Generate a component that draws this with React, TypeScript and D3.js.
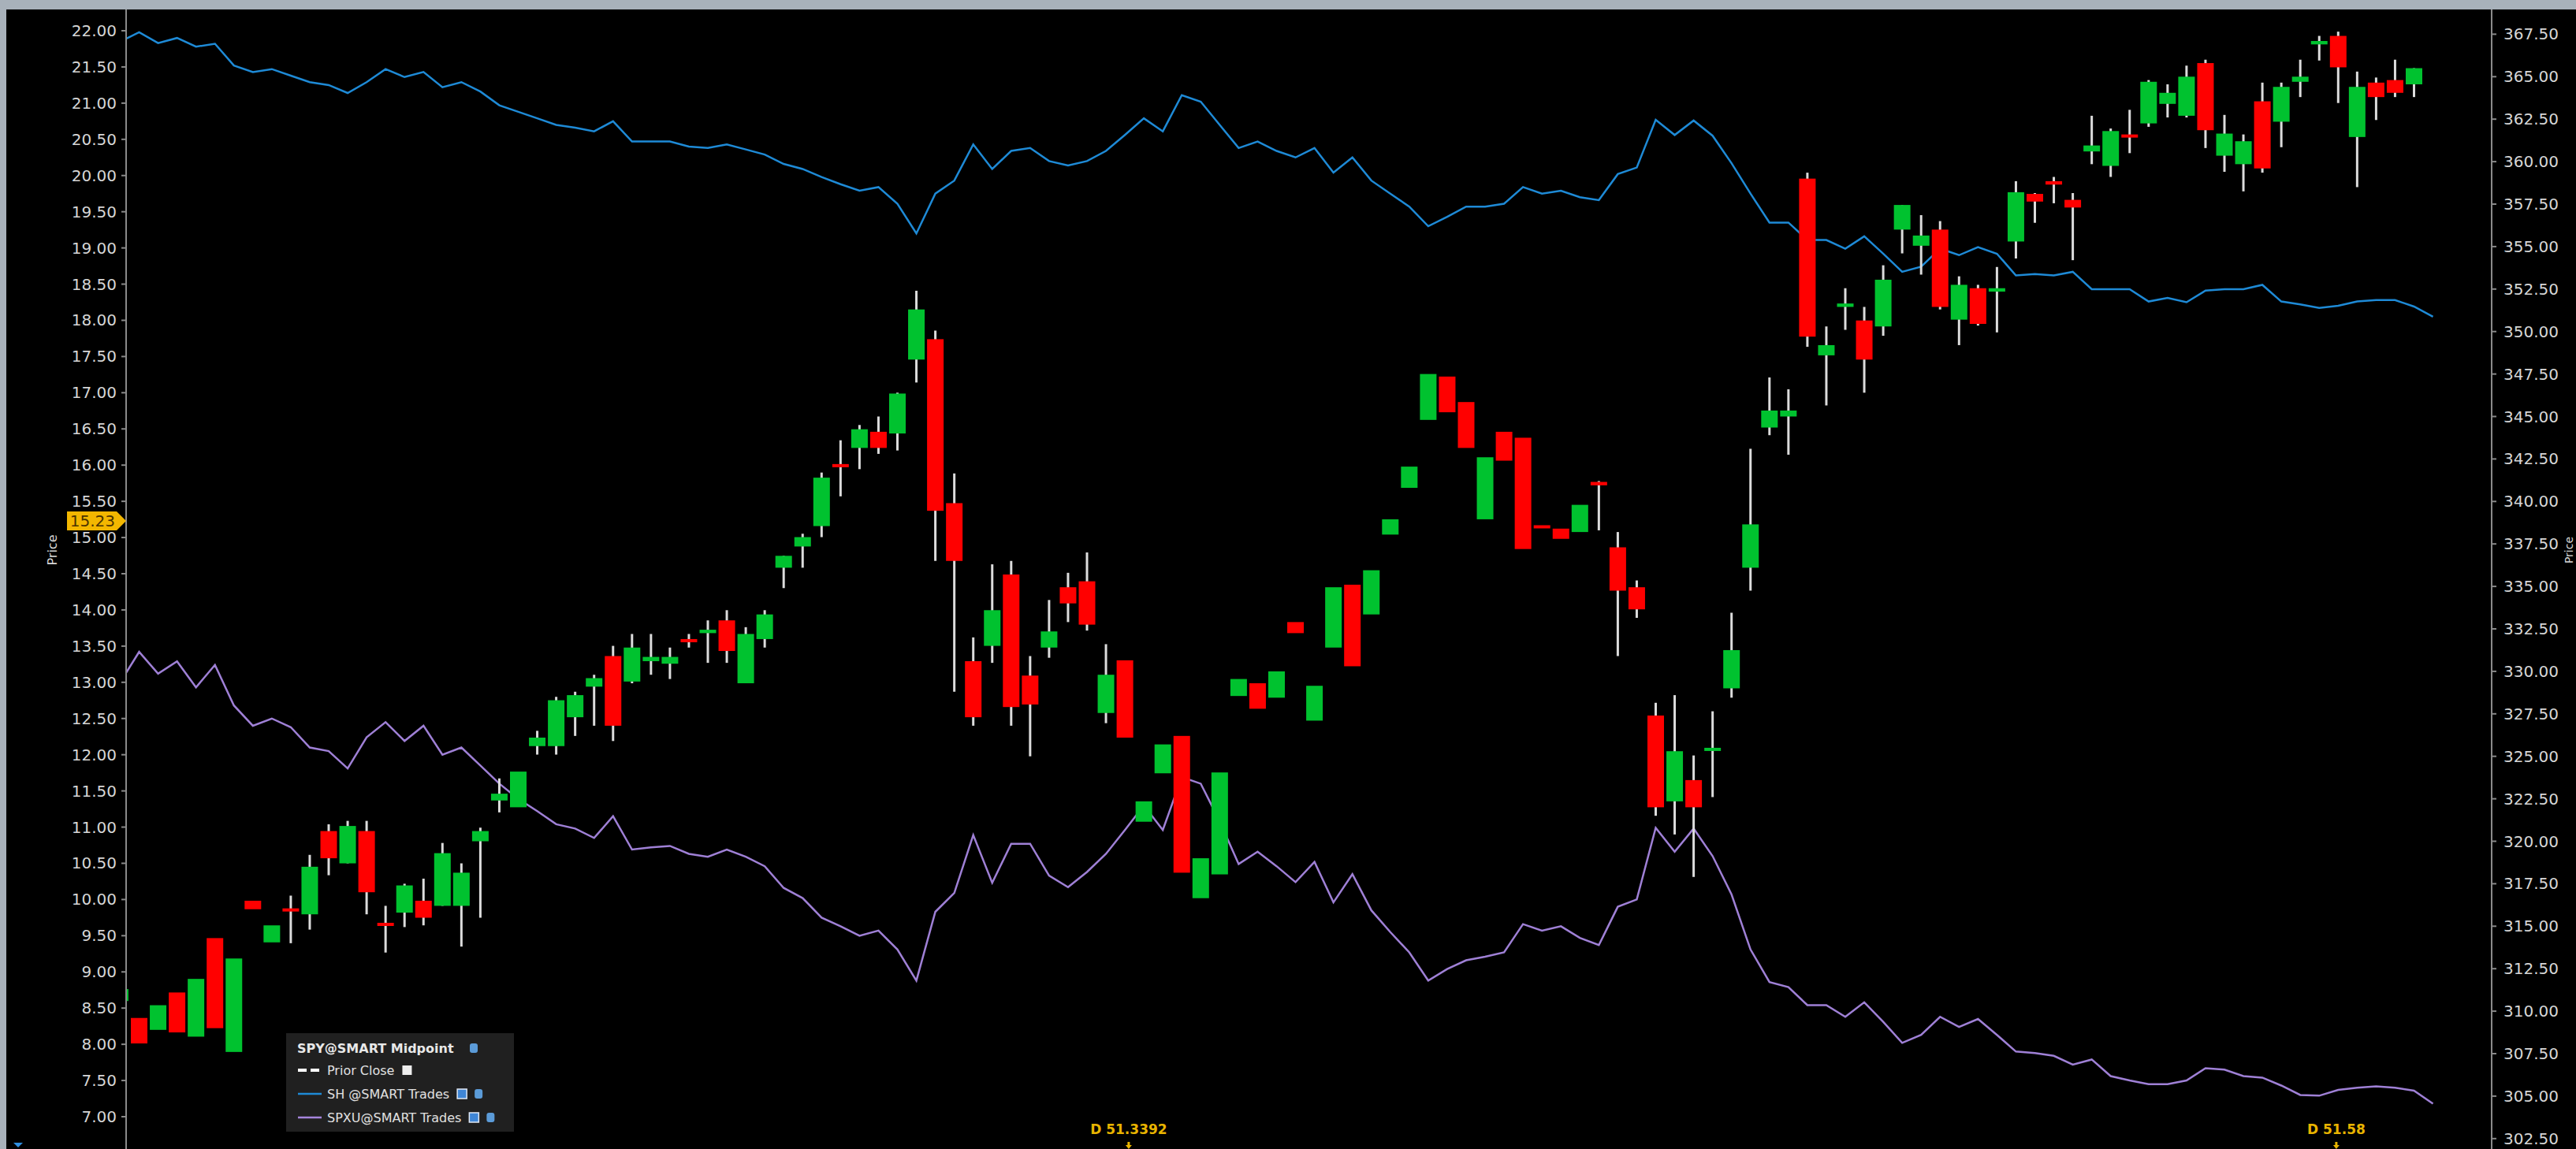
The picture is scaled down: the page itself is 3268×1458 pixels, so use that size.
import { useEffect, useRef } from "react";
import * as d3 from "d3";

const width = 3268, height = 1458;

// daily bars, first one sits half hidden behind the left axis
const firstIndex = -1;
const spyOpen = [310.6, 309.6, 308.9, 311.1, 308.5, 314.3, 307.6, 316.5, 314.05, 316.05, 315.7, 320.6, 318.7, 320.6, 315.2, 315.8, 316.5, 316.2, 316.2, 320.0, 322.4, 322.0, 325.6, 325.6, 327.3, 329.1, 330.9, 329.4, 330.6, 330.45, 331.9, 332.25, 333.0, 329.3, 331.9, 336.1, 337.35, 338.55, 342.2, 343.15, 344.1, 344.0, 348.35, 349.55, 339.9, 330.6, 331.5, 335.7, 329.75, 331.4, 334.95, 335.3, 327.55, 330.65, 321.15, 324.0, 326.2, 316.65, 318.05, 328.55, 329.3, 328.45, 332.9, 327.1, 331.4, 335.1, 333.35, 338.05, 340.8, 344.8, 347.35, 345.85, 338.95, 344.1, 343.75, 338.6, 338.4, 338.2, 341.15, 337.3, 334.95, 327.4, 322.35, 323.6, 325.45, 329.0, 336.1, 344.35, 345.0, 359.0, 348.6, 351.45, 350.65, 350.3, 356.0, 355.05, 356.0, 350.7, 352.55, 352.35, 355.3, 358.1, 358.85, 357.75, 360.6, 359.75, 361.6, 362.25, 363.4, 362.7, 365.8, 360.35, 359.85, 363.55, 362.35, 364.7, 366.9, 367.4, 361.45, 364.65, 364.8, 364.55];
const spyHigh = [311.3, 309.6, 310.35, 311.1, 311.9, 314.3, 313.1, 316.5, 315.05, 316.8, 319.2, 321.0, 321.2, 321.2, 316.2, 317.5, 317.8, 319.9, 318.7, 320.8, 323.7, 324.1, 326.5, 328.5, 328.8, 329.8, 331.5, 332.2, 332.2, 331.4, 332.2, 333.0, 333.6, 332.6, 333.6, 336.8, 338.1, 341.7, 343.6, 344.5, 345.0, 346.4, 352.4, 350.05, 341.65, 332.0, 336.3, 336.5, 330.9, 334.2, 335.8, 337.0, 331.6, 330.65, 322.35, 325.7, 326.2, 319.0, 324.05, 329.55, 329.3, 330.0, 332.9, 329.15, 334.95, 335.1, 335.95, 338.95, 342.05, 347.5, 347.35, 345.85, 342.6, 344.1, 343.75, 338.6, 338.4, 339.8, 341.2, 338.2, 335.35, 328.15, 328.6, 325.05, 327.65, 333.45, 343.1, 347.3, 346.6, 359.35, 350.3, 352.55, 351.45, 353.9, 357.45, 356.85, 356.5, 353.25, 352.75, 353.8, 358.85, 358.15, 359.1, 358.15, 362.7, 361.95, 363.05, 364.8, 364.55, 365.65, 366.0, 362.75, 361.6, 364.65, 364.65, 366.0, 367.4, 367.65, 365.3, 364.95, 366.0, 365.5];
const spyLow = [310.6, 308.1, 308.9, 308.75, 308.5, 309.0, 307.6, 316.0, 314.05, 314.0, 314.8, 318.0, 318.7, 315.7, 313.45, 314.95, 315.05, 316.2, 313.8, 315.5, 321.7, 322.0, 325.1, 325.1, 326.2, 326.8, 325.9, 329.3, 329.8, 329.55, 331.4, 330.5, 330.5, 329.3, 331.4, 334.9, 336.1, 337.9, 340.3, 341.9, 342.8, 343.0, 347.0, 336.5, 328.8, 326.8, 330.5, 326.8, 325.0, 330.8, 332.9, 332.4, 326.95, 326.1, 321.15, 324.0, 318.15, 316.65, 318.05, 328.55, 327.8, 328.45, 332.25, 327.1, 331.4, 330.3, 333.35, 338.05, 340.8, 344.8, 345.25, 343.15, 338.95, 342.4, 337.2, 338.45, 337.8, 338.2, 338.3, 330.9, 333.15, 321.5, 320.4, 317.9, 322.6, 328.45, 334.75, 343.9, 342.75, 349.1, 345.65, 350.1, 346.4, 349.75, 354.6, 353.35, 351.3, 349.2, 350.35, 349.95, 354.3, 356.4, 357.55, 354.2, 359.85, 359.1, 360.5, 362.05, 362.6, 362.6, 360.8, 359.4, 358.25, 359.35, 360.85, 363.8, 365.95, 363.45, 358.5, 362.45, 363.8, 363.8];
const spyClose = [311.3, 308.1, 310.35, 308.75, 311.9, 309.0, 313.1, 316.0, 315.05, 315.95, 318.5, 319.0, 320.9, 317.0, 315.1, 317.4, 315.5, 319.3, 318.15, 320.6, 322.8, 324.1, 326.1, 328.3, 328.6, 329.6, 326.8, 331.4, 330.85, 330.85, 331.8, 332.45, 331.2, 332.2, 333.35, 336.8, 337.9, 341.4, 342.1, 344.25, 343.15, 346.35, 351.3, 339.45, 336.5, 327.3, 333.6, 327.9, 328.05, 332.35, 334.0, 332.75, 329.8, 326.1, 322.35, 325.7, 318.15, 319.0, 324.05, 329.55, 327.8, 330.0, 332.25, 329.15, 334.95, 330.3, 335.95, 338.95, 342.05, 347.5, 345.25, 343.15, 342.6, 342.4, 337.2, 338.45, 337.8, 339.8, 340.95, 334.75, 333.65, 322.0, 325.3, 322.0, 325.5, 331.25, 338.65, 345.35, 345.35, 349.7, 349.2, 351.65, 348.35, 353.05, 357.45, 355.65, 351.45, 352.75, 350.45, 352.55, 358.2, 357.65, 358.65, 357.3, 360.95, 361.8, 361.45, 364.7, 364.05, 365.0, 361.85, 361.65, 361.2, 359.6, 364.4, 365.0, 367.1, 365.55, 364.4, 363.8, 364.05, 365.5];

// line studies on the left scale, one point per bar plus today's
const shTrades = [21.85, 21.98, 21.83, 21.9, 21.78, 21.82, 21.52, 21.43, 21.47, 21.38, 21.29, 21.25, 21.14, 21.29, 21.47, 21.36, 21.43, 21.22, 21.29, 21.16, 20.97, 20.88, 20.79, 20.7, 20.66, 20.61, 20.75, 20.47, 20.47, 20.47, 20.4, 20.38, 20.43, 20.36, 20.29, 20.16, 20.09, 19.98, 19.88, 19.79, 19.84, 19.61, 19.2, 19.75, 19.93, 20.43, 20.09, 20.34, 20.38, 20.2, 20.14, 20.2, 20.34, 20.56, 20.79, 20.61, 21.11, 21.02, 20.7, 20.38, 20.47, 20.34, 20.25, 20.38, 20.04, 20.25, 19.93, 19.75, 19.57, 19.3, 19.43, 19.57, 19.57, 19.61, 19.84, 19.75, 19.79, 19.7, 19.66, 20.02, 20.11, 20.77, 20.56, 20.76, 20.55, 20.17, 19.75, 19.35, 19.35, 19.11, 19.11, 18.99, 19.16, 18.92, 18.67, 18.74, 18.99, 18.9, 19.01, 18.92, 18.62, 18.64, 18.62, 18.67, 18.43, 18.43, 18.43, 18.26, 18.31, 18.25, 18.41, 18.43, 18.43, 18.49, 18.26, 18.22, 18.17, 18.2, 18.26, 18.28, 18.28, 18.19, 18.05];
const spxuTrades = [13.0, 13.42, 13.12, 13.29, 12.93, 13.24, 12.68, 12.4, 12.5, 12.38, 12.1, 12.05, 11.81, 12.24, 12.45, 12.19, 12.4, 12.0, 12.1, 11.85, 11.6, 11.39, 11.22, 11.04, 10.98, 10.85, 11.15, 10.69, 10.72, 10.74, 10.63, 10.59, 10.69, 10.59, 10.46, 10.16, 10.02, 9.75, 9.63, 9.5, 9.57, 9.31, 8.88, 9.83, 10.09, 10.89, 10.23, 10.77, 10.77, 10.33, 10.17, 10.38, 10.63, 10.96, 11.3, 10.96, 11.69, 11.6, 11.08, 10.49, 10.66, 10.46, 10.24, 10.52, 9.96, 10.35, 9.85, 9.55, 9.27, 8.88, 9.04, 9.16, 9.21, 9.27, 9.66, 9.57, 9.63, 9.47, 9.37, 9.9, 10.0, 10.99, 10.66, 10.98, 10.6, 10.07, 9.31, 8.86, 8.79, 8.54, 8.54, 8.38, 8.58, 8.31, 8.02, 8.13, 8.38, 8.24, 8.35, 8.13, 7.9, 7.88, 7.84, 7.72, 7.79, 7.56, 7.5, 7.45, 7.45, 7.5, 7.67, 7.65, 7.56, 7.54, 7.43, 7.3, 7.29, 7.37, 7.4, 7.42, 7.4, 7.36, 7.18];

const leftTicks = [22, 21.5, 21, 20.5, 20, 19.5, 19, 18.5, 18, 17.5, 17, 16.5, 16, 15.5, 15, 14.5, 14, 13.5, 13, 12.5, 12, 11.5, 11, 10.5, 10, 9.5, 9, 8.5, 8, 7.5, 7];
const rightTicks = [367.5, 365, 362.5, 360, 357.5, 355, 352.5, 350, 347.5, 345, 342.5, 340, 337.5, 335, 332.5, 330, 327.5, 325, 322.5, 320, 317.5, 315, 312.5, 310, 307.5, 305, 302.5];

const lastPrice = 15.23;
const legendRows = ["Prior Close", "SH @SMART Trades", "SPXU@SMART Trades"];
const legendColors = ["#ffffff", "#1e8ad6", "#a585dc"];
const markers = [{ label: "D 51.3392", at: 52.2 }, { label: "D 51.58", at: 115.9 }];

const FONT = "'DejaVu Sans', Verdana, sans-serif";

function drawChart(el) {
    d3.select(el).selectAll("*").remove();

    const plotLeft = 161, plotRight = 3161;

    const x = d3.scaleLinear().domain([0, 120]).range([176.5, 3062.5]);
    const yLeft = d3.scaleLinear().domain([7, 22]).range([1417, 39]);
    const yRight = d3.scaleLinear().domain([302.5, 367.5]).range([1444.8, 43.4]);

    const svg = d3.select(el).append("svg")
        .attr("width", width)
        .attr("height", height)
        .style("display", "block")
        .style("font-family", FONT);

    /* frame */
    svg.append("rect").attr("width", width).attr("height", height).attr("fill", "#a8b1ba");
    svg.append("rect").attr("x", 8).attr("y", 12).attr("width", width - 8).attr("height", height - 12).attr("fill", "#000");

    svg.append("clipPath").attr("id", "plot")
        .append("rect").attr("x", plotLeft).attr("y", 12).attr("width", plotRight - plotLeft).attr("height", height - 12);

    const plot = svg.append("g").attr("clip-path", "url(#plot)");

    /* lines */
    const line = (scale) => d3.line()
        .x((d, i) => x(i + firstIndex))
        .y(d => scale(d));

    plot.append("path").datum(shTrades)
        .attr("fill", "none").attr("stroke", "#1e8ad6").attr("stroke-width", 2.5)
        .attr("d", line(yLeft));
    plot.append("path").datum(spxuTrades)
        .attr("fill", "none").attr("stroke", "#9f80d6").attr("stroke-width", 2.5)
        .attr("d", line(yLeft));

    /* candles */
    const bars = spyOpen.map((o, i) => ({
        i: i + firstIndex, o, h: spyHigh[i], l: spyLow[i], c: spyClose[i]
    }));

    plot.append("g").selectAll("line")
        .data(bars.filter(d => d.h > Math.max(d.o, d.c) || d.l < Math.min(d.o, d.c)))
        .join("line")
        .attr("x1", d => x(d.i)).attr("x2", d => x(d.i))
        .attr("y1", d => yRight(d.h)).attr("y2", d => yRight(d.l))
        .attr("stroke", "#dcdcdc").attr("stroke-width", 3);

    plot.append("g").selectAll("rect")
        .data(bars)
        .join("rect")
        .attr("x", d => x(d.i) - 10.5)
        .attr("width", 21)
        .attr("y", d => yRight(Math.max(d.o, d.c)))
        .attr("height", d => Math.max(4, Math.abs(yRight(d.o) - yRight(d.c))))
        .attr("fill", d => d.c >= d.o ? "#00c22f" : "#ff0000");

    /* left axis */
    svg.append("line").attr("x1", 160).attr("x2", 160).attr("y1", 12).attr("y2", height)
        .attr("stroke", "#8a8a8a").attr("stroke-width", 2);
    const lt = svg.append("g").selectAll("g").data(leftTicks).join("g")
        .attr("transform", d => `translate(0,${yLeft(d)})`);
    lt.append("line").attr("x1", 154).attr("x2", 160).attr("stroke", "#8a8a8a").attr("stroke-width", 2);
    lt.append("text")
        .attr("x", 148).attr("dy", "0.35em")
        .attr("text-anchor", "end")
        .attr("fill", "#d6d6d6").attr("font-size", 20)
        .text(d => d3.format(".2f")(d));

    /* right axis */
    svg.append("line").attr("x1", plotRight).attr("x2", plotRight).attr("y1", 12).attr("y2", height)
        .attr("stroke", "#8a8a8a").attr("stroke-width", 2);
    const rt = svg.append("g").selectAll("g").data(rightTicks).join("g")
        .attr("transform", d => `translate(0,${yRight(d)})`);
    rt.append("line").attr("x1", plotRight).attr("x2", plotRight + 6).attr("stroke", "#8a8a8a").attr("stroke-width", 2);
    rt.append("text")
        .attr("x", 3176).attr("dy", "0.35em")
        .attr("fill", "#d6d6d6").attr("font-size", 20)
        .text(d => d3.format(".2f")(d));

    /* axis titles */
    svg.append("text")
        .attr("transform", "translate(72,698) rotate(-90)")
        .attr("text-anchor", "middle").attr("fill", "#d6d6d6").attr("font-size", 16)
        .text("Price");
    svg.append("text")
        .attr("transform", "translate(3264,698) rotate(-90)")
        .attr("text-anchor", "middle").attr("fill", "#d6d6d6").attr("font-size", 14)
        .text("Price");

    /* last price tag */
    const ty = yLeft(lastPrice);
    svg.append("path")
        .attr("d", `M85,${ty - 12}H148L160,${ty}L148,${ty + 12}H85Z`)
        .attr("fill", "#f3b700");
    svg.append("text")
        .attr("x", 146).attr("y", ty).attr("dy", "0.35em")
        .attr("text-anchor", "end").attr("fill", "#4a3300").attr("font-size", 20)
        .text(d3.format(".2f")(lastPrice));

    /* dividend markers */
    const mk = svg.append("g").selectAll("g").data(markers).join("g")
        .attr("transform", d => `translate(${x(d.at)},0)`);
    mk.append("text")
        .attr("y", 1439).attr("text-anchor", "middle")
        .attr("fill", "#e8b400").attr("font-size", 17).attr("font-weight", "bold")
        .text(d => d.label);
    mk.append("path")
        .attr("d", "M-1.5,1449H1.5V1453H4L0,1458L-4,1453H-1.5Z")
        .attr("fill", "#e8b400");

    /* legend */
    const lg = svg.append("g").attr("transform", "translate(363,1311)");
    lg.append("rect").attr("width", 289).attr("height", 125).attr("fill", "#202020");
    lg.append("text")
        .attr("x", 14).attr("y", 19).attr("dy", "0.35em")
        .attr("fill", "#e8e8e8").attr("font-size", 16).attr("font-weight", "bold")
        .text("SPY@SMART Midpoint");
    lg.append("rect").attr("x", 233).attr("y", 13).attr("width", 10).attr("height", 12).attr("rx", 3).attr("fill", "#5b9bd8");

    const rows = lg.selectAll("g.row").data(legendRows).join("g")
        .attr("class", "row")
        .attr("transform", (d, i) => `translate(0,${47 + i * 30})`);
    rows.append("line")
        .attr("x1", 15).attr("x2", 45)
        .attr("stroke", (d, i) => legendColors[i])
        .attr("stroke-width", (d, i) => i === 0 ? 4 : 2.5)
        .attr("stroke-dasharray", (d, i) => i === 0 ? "11,5" : null);
    rows.append("text")
        .attr("x", 52).attr("dy", "0.35em")
        .attr("fill", "#e0e0e0").attr("font-size", 16)
        .text(d => d);
    rows.each(function (d, i) {
        const g = d3.select(this);
        const w = (this.querySelector("text") as SVGTextElement).getComputedTextLength();
        const bx = 52 + w + 10;
        g.append("rect").attr("x", bx).attr("y", -6).attr("width", 12).attr("height", 12)
            .attr("fill", i === 0 ? "#eeeeee" : "#3f86d6").attr("stroke", "#dfe8f5").attr("stroke-width", i === 0 ? 0 : 1.5);
        if (i > 0) {
            g.append("rect").attr("x", bx + 22).attr("y", -6).attr("width", 10).attr("height", 12).attr("rx", 3).attr("fill", "#5b9bd8");
        }
    });

    /* little marker at bottom-left */
    svg.append("path").attr("d", "M17,1450H29L23,1456Z").attr("fill", "#2f8ee0");
}

export default function App() {
    const ref = useRef(null);
    useEffect(() => {
        document.body.style.margin = "0";
        document.body.style.background = "#000";
        drawChart(ref.current);
    }, []);
    return <div ref={ref} />;
}
